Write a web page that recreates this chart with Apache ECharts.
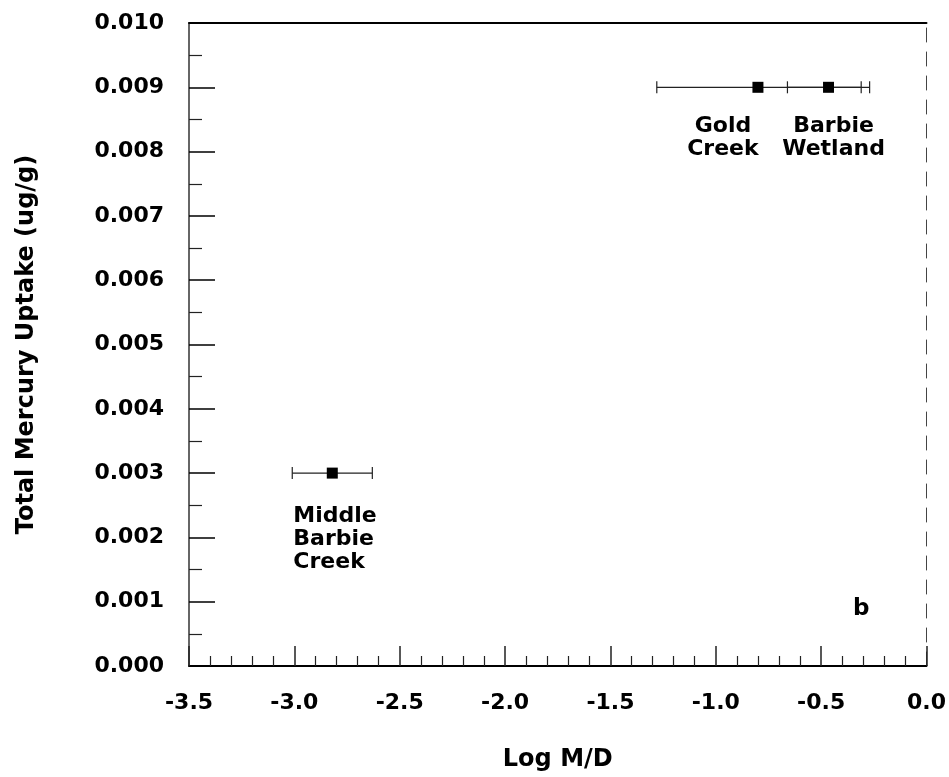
<!DOCTYPE html>
<html>
<head>
<meta charset="utf-8">
<script src="https://cdn.jsdelivr.net/npm/echarts@6/dist/echarts.min.js"></script>
<style>
html,body{margin:0;padding:0;background:#fff;}
#chart{width:949px;height:777px;}
</style>
</head>
<body>
<div id="chart"></div>
<script>
// ---- data ----
const siteNames = ['Middle Barbie Creek', 'Gold Creek', 'Barbie Wetland'];
const siteLabels = ['Middle\nBarbie\nCreek', 'Gold\nCreek', 'Barbie\nWetland'];
const logMD = [-2.82, -0.80, -0.465];
const uptake = [0.003, 0.009, 0.009];
const errLow = [-3.01, -1.28, -0.66];
const errHigh = [-2.63, -0.31, -0.27];
const panelLetter = 'b';
const panelPos = [-0.31, 0.00088];
const xTitle = 'Log M/D';
const yTitle = 'Total Mercury Uptake (ug/g)';

const FONT = 'DejaVu Sans';
const txt = {fontFamily: FONT, fontWeight: 'bold', color: '#000'};

// label styling per site (placement relative to marker)
const labelCfg = [
  {align: 'left', offset: [-39, 0], distance: 26},
  {align: 'center', offset: [-35, 0], distance: 22},
  {align: 'center', offset: [5, 0], distance: 22}
];

const chart = echarts.init(document.getElementById('chart'));

const scatterData = logMD.map((x, i) => ({
  name: siteNames[i],
  value: [x, uptake[i]],
  label: {
    show: true,
    position: 'bottom',
    distance: labelCfg[i].distance,
    align: labelCfg[i].align,
    offset: labelCfg[i].offset,
    formatter: siteLabels[i],
    fontFamily: FONT, fontWeight: 'bold', fontSize: 22, color: '#000',
    lineHeight: 23
  }
}));

const errData = logMD.map((x, i) => [errLow[i], errHigh[i], uptake[i]]);

chart.setOption({
  animation: false,
  backgroundColor: '#fff',
  grid: {left: 189, right: 22, top: 23, bottom: 110, containLabel: false},
  xAxis: [{
    type: 'value', min: -3.5, max: 0, interval: 0.5,
    name: xTitle, nameLocation: 'middle', nameGap: 82,
    nameTextStyle: Object.assign({fontSize: 24}, txt),
    axisLine: {show: true, onZero: false, lineStyle: {color: '#000', width: 2}},
    axisTick: {show: true, inside: true, length: 20, lineStyle: {color: '#222', width: 1.5}},
    minorTick: {show: true, splitNumber: 5, length: 10, lineStyle: {color: '#222', width: 1.2}},
    axisLabel: Object.assign({fontSize: 22, margin: 26, formatter: v => v.toFixed(1)}, txt),
    splitLine: {show: false}
  }, {
    type: 'value', min: -3.5, max: 0, position: 'top',
    axisLine: {show: true, onZero: false, lineStyle: {color: '#000', width: 2}},
    axisTick: {show: false}, axisLabel: {show: false}, splitLine: {show: false}
  }],
  yAxis: [{
    type: 'value', min: 0, max: 0.01, interval: 0.001,
    name: yTitle, nameLocation: 'middle', nameGap: 150, nameRotate: 90,
    nameTextStyle: Object.assign({fontSize: 24}, txt),
    axisLine: {show: true, onZero: false, lineStyle: {color: '#333', width: 1.5}},
    axisTick: {show: true, inside: true, length: 26, lineStyle: {color: '#000', width: 1.5}},
    minorTick: {show: true, splitNumber: 2, length: 13, lineStyle: {color: '#222', width: 1.2}},
    axisLabel: Object.assign({fontSize: 22, margin: 25, formatter: v => v.toFixed(3)}, txt),
    splitLine: {show: false}
  }, {
    type: 'value', min: 0, max: 0.01, position: 'right',
    axisLine: {show: true, onZero: false, lineStyle: {color: '#444', width: 1, type: [14, 10]}},
    axisTick: {show: false}, axisLabel: {show: false}, splitLine: {show: false}
  }],
  series: [{
    type: 'custom',
    xAxisIndex: 0, yAxisIndex: 0,
    data: errData,
    encode: {x: [0, 1], y: 2},
    renderItem: function (params, api) {
      const y = api.value(2);
      const p1 = api.coord([api.value(0), y]);
      const p2 = api.coord([api.value(1), y]);
      const h = 6;
      const st = {stroke: '#222', lineWidth: 1.2};
      return {
        type: 'group',
        children: [
          {type: 'line', shape: {x1: p1[0], y1: p1[1], x2: p2[0], y2: p2[1]}, style: st},
          {type: 'line', shape: {x1: p1[0], y1: p1[1] - h, x2: p1[0], y2: p1[1] + h}, style: st},
          {type: 'line', shape: {x1: p2[0], y1: p2[1] - h, x2: p2[0], y2: p2[1] + h}, style: st}
        ]
      };
    },
    z: 2
  }, {
    type: 'scatter',
    xAxisIndex: 0, yAxisIndex: 0,
    symbol: 'rect', symbolSize: 11,
    itemStyle: {color: '#000', opacity: 1},
    data: scatterData,
    z: 3
  }, {
    type: 'scatter',
    xAxisIndex: 0, yAxisIndex: 0,
    symbolSize: 0,
    silent: true,
    itemStyle: {opacity: 1},
    data: [{value: panelPos, label: {
      show: true, position: 'inside', formatter: panelLetter,
      fontFamily: FONT, fontWeight: 'bold', fontSize: 23, color: '#000'
    }}],
    z: 3
  }]
});
</script>
</body>
</html>
